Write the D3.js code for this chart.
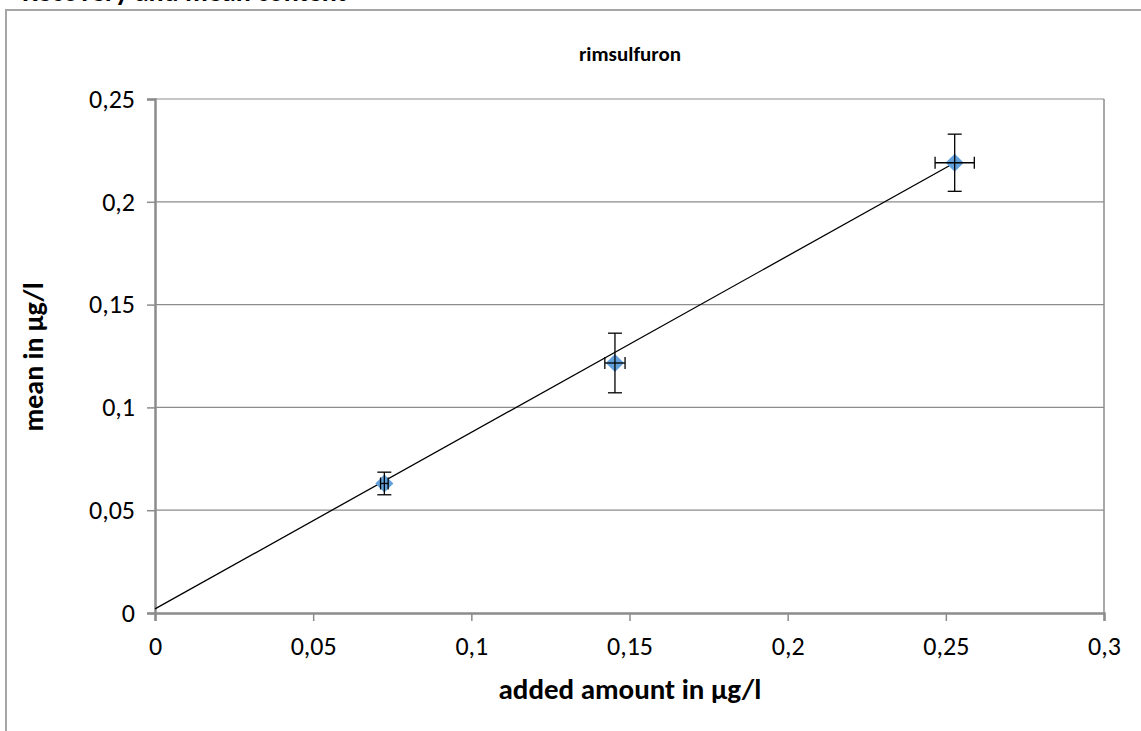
<!DOCTYPE html>
<html><head><meta charset="utf-8">
<script src="https://cdn.jsdelivr.net/npm/d3@7"></script>
<style>body{margin:0;background:#fff;} text{font-family:Carlito,Calibri,"Open Sans","Noto Sans",sans-serif;}</style>
</head><body>
<svg id="c" width="1141" height="731"></svg>
<script>
const xValues = [0.0725, 0.1454, 0.2528];
const yValues = [0.063, 0.1216, 0.219];
const xErrors = [0.0012, 0.0032, 0.0062];
const yErrors = [0.0055, 0.0145, 0.0139];
const trendStart = [0, 0.002];
const trendEnd = [0.2528, 0.219];
const xTicks = [0, 0.05, 0.1, 0.15, 0.2, 0.25, 0.3];
const yTicks = [0, 0.05, 0.1, 0.15, 0.2, 0.25];
const fmt = d => String(d).replace('.', ',');

const svg = d3.select('#c');
const L = 155, R = 1104, T = 99, B = 613;
const x = d3.scaleLinear().domain([0, 0.3]).range([L, R]);
const y = d3.scaleLinear().domain([0, 0.25]).range([B, T]);

// cut-off top text
svg.append('text').attr('x', 22).attr('y', 0.5).attr('font-weight', 'bold').attr('font-size', 28)
  .text('Recovery and mean content');

// outer chart border
svg.append('path').attr('d', `M6,740 L6,10 L1150,10`).attr('fill', 'none')
  .attr('stroke', '#a6a6a6').attr('stroke-width', 2);

// gridlines
svg.append('g').selectAll('line').data(yTicks.filter(d => d > 0)).join('line')
  .attr('x1', L).attr('x2', R).attr('y1', d => y(d)).attr('y2', d => y(d))
  .attr('stroke', '#8c8c8c').attr('stroke-width', 1.2);

// plot border right
svg.append('line').attr('x1', R).attr('x2', R).attr('y1', T).attr('y2', B)
  .attr('stroke', '#8c8c8c').attr('stroke-width', 1.5);

// axes
const yAxis = svg.append('g').attr('transform', `translate(${L},0)`)
  .call(d3.axisLeft(y).tickValues(yTicks).tickFormat(fmt).tickSize(8).tickPadding(12));
const xAxis = svg.append('g').attr('transform', `translate(0,${B})`)
  .call(d3.axisBottom(x).tickValues(xTicks).tickFormat(fmt).tickSize(8).tickPadding(14));
[yAxis, xAxis].forEach(a => {
  a.select('.domain').attr('stroke', '#8c8c8c').attr('stroke-width', 2.5);
  a.selectAll('.tick line').attr('stroke', '#8c8c8c').attr('stroke-width', 1.5);
  a.selectAll('.tick text').attr('font-size', 26).attr('fill', '#000')
    .attr('font-family', 'Carlito,Calibri,"Open Sans",sans-serif');
});
xAxis.selectAll('.tick text').attr('dy', '0.75em');

// trendline
svg.append('line').attr('x1', x(trendStart[0])).attr('y1', y(trendStart[1]))
  .attr('x2', x(trendEnd[0])).attr('y2', y(trendEnd[1]))
  .attr('stroke', '#000').attr('stroke-width', 1.3);

const pts = xValues.map((v, i) => ({x: v, y: yValues[i], ex: xErrors[i], ey: yErrors[i]}));
// markers
svg.append('g').selectAll('path').data(pts).join('path')
  .attr('d', d3.symbol(d3.symbolDiamond2, 210)())
  .attr('transform', d => `translate(${x(d.x)},${y(d.y)})`)
  .attr('fill', '#62a0dc');
// error bars
const eb = svg.append('g').attr('stroke', '#000').attr('stroke-width', 1.3);
pts.forEach(d => {
  const cx = x(d.x), cy = y(d.y);
  eb.append('line').attr('x1', cx).attr('x2', cx).attr('y1', y(d.y + d.ey)).attr('y2', y(d.y - d.ey));
  eb.append('line').attr('x1', cx - 7).attr('x2', cx + 7).attr('y1', y(d.y + d.ey)).attr('y2', y(d.y + d.ey));
  eb.append('line').attr('x1', cx - 7).attr('x2', cx + 7).attr('y1', y(d.y - d.ey)).attr('y2', y(d.y - d.ey));
  eb.append('line').attr('x1', x(d.x - d.ex)).attr('x2', x(d.x + d.ex)).attr('y1', cy).attr('y2', cy);
  eb.append('line').attr('x1', x(d.x - d.ex)).attr('x2', x(d.x - d.ex)).attr('y1', cy - 6).attr('y2', cy + 6);
  eb.append('line').attr('x1', x(d.x + d.ex)).attr('x2', x(d.x + d.ex)).attr('y1', cy - 6).attr('y2', cy + 6);
});

// titles
svg.append('text').attr('x', 630).attr('y', 61).attr('text-anchor', 'middle')
  .attr('font-weight', 'bold').attr('font-size', 21).text('rimsulfuron');
svg.append('text').attr('x', 630).attr('y', 699).attr('text-anchor', 'middle')
  .attr('font-weight', 'bold').attr('font-size', 29).text('added amount in µg/l');
svg.append('text').attr('transform', 'translate(43,357) rotate(-90)').attr('text-anchor', 'middle')
  .attr('font-weight', 'bold').attr('font-size', 28).text('mean in µg/l');
</script>
</body></html>
